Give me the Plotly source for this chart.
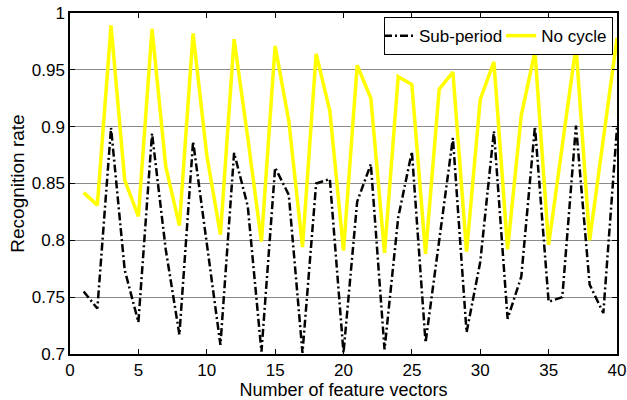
import plotly.graph_objects as go

x_vals = list(range(1, 41))
sub_period = [0.755, 0.740, 0.899, 0.774, 0.728, 0.894, 0.792, 0.717, 0.887, 0.797,
              0.708, 0.877, 0.830, 0.702, 0.864, 0.840, 0.701, 0.850, 0.854, 0.701,
              0.834, 0.867, 0.704, 0.820, 0.878, 0.710, 0.802, 0.890, 0.719, 0.781,
              0.896, 0.731, 0.768, 0.900, 0.746, 0.750, 0.901, 0.761, 0.736, 0.899]
no_cycle = [0.842, 0.831, 0.989, 0.853, 0.821, 0.986, 0.865, 0.813, 0.982, 0.875,
            0.805, 0.977, 0.890, 0.799, 0.971, 0.905, 0.794, 0.964, 0.914, 0.791,
            0.954, 0.925, 0.789, 0.944, 0.937, 0.788, 0.933, 0.948, 0.790, 0.924,
            0.957, 0.792, 0.910, 0.966, 0.796, 0.885, 0.971, 0.800, 0.889, 0.978]
x_ticks = [0, 5, 10, 15, 20, 25, 30, 35, 40]
y_ticks = [0.7, 0.75, 0.8, 0.85, 0.9, 0.95, 1]
y_tick_text = ["0.7", "0.75", "0.8", "0.85", "0.9", "0.95", "1"]

FONT = "Liberation Sans, Arial, sans-serif"

fig = go.Figure()
fig.add_trace(go.Scatter(x=x_vals, y=sub_period, mode="lines", name="Sub-period",
                         line=dict(color="black", width=2.5, dash="8px,3px,2px,3px")))
fig.add_trace(go.Scatter(x=x_vals, y=no_cycle, mode="lines", name="No cycle",
                         line=dict(color="#FFFF00", width=3.5)))

fig.update_layout(
    width=627, height=400,
    margin=dict(l=70, r=10, t=13, b=46, autoexpand=False),
    paper_bgcolor="white", plot_bgcolor="white",
    font=dict(family=FONT, size=17, color="black"),
    showlegend=True,
    legend=dict(orientation="h", x=0.9927, xanchor="right", y=0.988, yanchor="top",
                bgcolor="white", bordercolor="black", borderwidth=1,
                font=dict(size=17), itemwidth=30, tracegroupgap=0,
                indentation=-6),
)
fig.update_xaxes(range=[0, 40], tickvals=x_ticks, ticks="inside", ticklen=5,
                 tickcolor="black", showline=True, linecolor="black", linewidth=1.5,
                 mirror="ticks", showgrid=False, zeroline=False, automargin=False,
                 tickfont=dict(size=17),
                 title=dict(text="Number of feature vectors", standoff=3,
                            font=dict(size=18)))
fig.update_yaxes(range=[0.7, 1], tickvals=y_ticks, ticktext=y_tick_text, ticks="inside",
                 ticklen=5, tickcolor="black", showline=True, linecolor="black",
                 linewidth=1.5, mirror="ticks", showgrid=True, gridcolor="#8a8a8a",
                 gridwidth=1, zeroline=False, automargin=False,
                 tickfont=dict(size=17),
                 title=dict(text="Recognition rate", standoff=2, font=dict(size=19)))

fig.write_html("out.html")
